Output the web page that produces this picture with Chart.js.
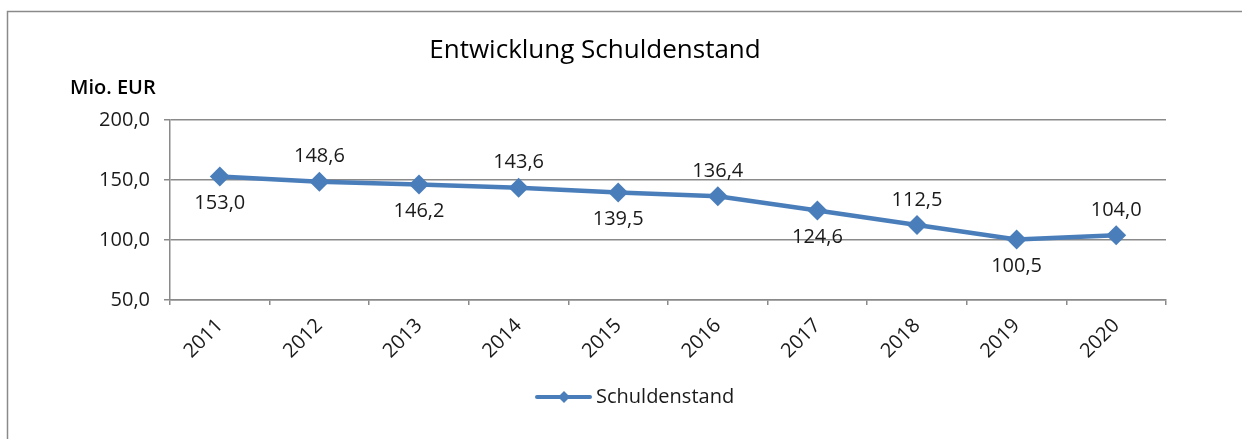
<!DOCTYPE html>
<html lang="de">
<head>
    <title>Entwicklung Schuldenstand</title>
    <script src="https://cdn.jsdelivr.net/npm/chart.js"></script>
    <style>
        body { margin: 0; background: #fff; }
    </style>
</head>
<body>
    <canvas id="myChart" width="1242" height="439"></canvas>

    <script>
        const years = ['2011', '2012', '2013', '2014', '2015', '2016', '2017', '2018', '2019', '2020'];
        const debt = [153.0, 148.6, 146.2, 143.6, 139.5, 136.4, 124.6, 112.5, 100.5, 104.0];
        const yTicks = [50, 100, 150, 200];

        const FONT = '"Open Sans", "Noto Sans", sans-serif';
        const BLUE = '#4a7ebb';
        const GREY = '#8a8a8a';
        const fmt = v => v.toFixed(1).replace('.', ',');

        // frame, title, unit label, value labels and legend
        const extras = {
            id: 'extras',
            beforeDraw(chart) {
                const c = chart.ctx;
                c.save();
                c.strokeStyle = GREY;
                c.lineWidth = 1.5;
                c.beginPath();
                c.moveTo(7.5, 440);
                c.lineTo(7.5, 11.5);
                c.lineTo(1250, 11.5);
                c.stroke();

                c.fillStyle = '#000';
                c.textAlign = 'center';
                c.textBaseline = 'middle';
                c.font = '500 26px ' + FONT;
                c.fillText('Entwicklung Schuldenstand', 595, 51);

                c.textAlign = 'left';
                c.font = '600 20px ' + FONT;
                c.fillText('Mio. EUR', 70, 88);
                c.restore();
            },
            afterDatasetsDraw(chart) {
                const c = chart.ctx;
                const meta = chart.getDatasetMeta(0);
                c.save();
                c.fillStyle = '#1a1a1a';
                c.font = '20px ' + FONT;
                c.textAlign = 'center';
                c.textBaseline = 'middle';
                meta.data.forEach((pt, i) => {
                    const dy = i % 2 === 0 ? 27 : -25;
                    c.fillText(fmt(debt[i]), pt.x, pt.y + dy);
                });

                // legend
                const ly = 397;
                c.strokeStyle = BLUE;
                c.lineWidth = 4;
                c.lineCap = 'round';
                c.beginPath();
                c.moveTo(537, ly);
                c.lineTo(590, ly);
                c.stroke();
                c.fillStyle = BLUE;
                c.beginPath();
                c.moveTo(564, ly - 6);
                c.lineTo(570, ly);
                c.lineTo(564, ly + 6);
                c.lineTo(558, ly);
                c.closePath();
                c.fill();
                c.fillStyle = '#1a1a1a';
                c.textAlign = 'left';
                c.font = '20px ' + FONT;
                c.fillText('Schuldenstand', 596, ly);
                c.restore();
            }
        };

        const ctx = document.getElementById('myChart').getContext('2d');
        new Chart(ctx, {
            type: 'line',
            data: {
                labels: years,
                datasets: [{
                    label: 'Schuldenstand',
                    data: debt,
                    borderColor: BLUE,
                    backgroundColor: BLUE,
                    borderWidth: 4.5,
                    pointStyle: 'rectRot',
                    pointRadius: 10,
                    pointHoverRadius: 10,
                    pointBorderWidth: 0,
                    tension: 0
                }]
            },
            options: {
                responsive: false,
                animation: false,
                layout: { padding: { left: 0, right: 76, top: 120, bottom: 0 } },
                plugins: {
                    legend: { display: false },
                    title: { display: false },
                    tooltip: { enabled: false }
                },
                scales: {
                    x: {
                        offset: true,
                        afterFit: s => { s.height = 139; },
                        grid: {
                            offset: true,
                            drawOnChartArea: false,
                            drawTicks: true,
                            tickLength: 5,
                            color: GREY,
                            lineWidth: 1.5
                        },
                        border: { color: GREY, width: 1.5 },
                        ticks: {
                            minRotation: 45,
                            maxRotation: 45,
                            padding: 9,
                            color: '#1a1a1a',
                            font: { family: FONT, size: 20 }
                        }
                    },
                    y: {
                        min: yTicks[0],
                        max: yTicks[yTicks.length - 1],
                        afterFit: s => { s.width = 170; },
                        afterBuildTicks: s => { s.ticks = yTicks.map(v => ({ value: v })); },
                        grid: {
                            color: GREY,
                            lineWidth: 1.5,
                            tickLength: 6
                        },
                        border: { color: GREY, width: 1.5 },
                        ticks: {
                            padding: 14,
                            color: '#1a1a1a',
                            font: { family: FONT, size: 20 },
                            callback: v => fmt(v)
                        }
                    }
                }
            },
            plugins: [extras]
        });
    </script>
</body>
</html>
